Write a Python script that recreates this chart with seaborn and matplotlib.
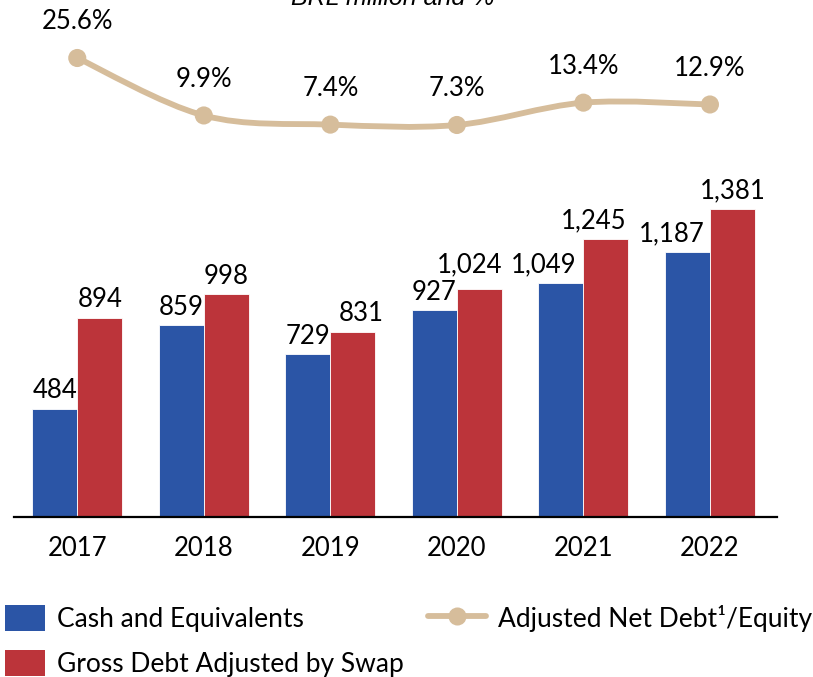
import numpy as np
import pandas as pd
import matplotlib
matplotlib.use('Agg')
import matplotlib.pyplot as plt
import seaborn as sns
from matplotlib.path import Path
from matplotlib.patches import PathPatch, Patch
from matplotlib.lines import Line2D

years = ['2017', '2018', '2019', '2020', '2021', '2022']
cash = [484, 859, 729, 927, 1049, 1187]
gross = [894, 998, 831, 1024, 1245, 1381]
ratio = [25.6, 9.9, 7.4, 7.3, 13.4, 12.9]
series_names = ['Cash and Equivalents', 'Gross Debt Adjusted by Swap']
line_name = 'Adjusted Net Debt¹/Equity'
title = 'BRL million and %'

BLUE = '#2B55A6'
RED = '#BC343A'
TAN = '#D6BD9B'

# manual label nudges (pixels) to mimic the reference's hand-placed labels
label_nudge_px = {(1, 2): (8, 0), (1, 3): (-10, 6), (0, 4): (-17, 0),
                  (1, 4): (-12, 0), (0, 5): (-16, 0)}

sns.set_theme(style='white')
plt.rcParams['font.family'] = ['Lato', 'DejaVu Sans']
plt.rcParams['text.color'] = 'black'

df = pd.DataFrame({
    'Year': years * 2,
    'Value': cash + gross,
    'Series': [series_names[0]] * len(years) + [series_names[1]] * len(years),
})

W, H = 813, 677
FS = 18.5
PAD = 4
fig = plt.figure(figsize=(W / 100, H / 100), dpi=100)
ax = fig.add_axes([14 / W, (H - 517) / H, 763 / W, (517 - 30) / H])
sns.barplot(data=df, x='Year', y='Value', hue='Series', palette=[BLUE, RED],
            width=0.71, gap=0, edgecolor='white', linewidth=0.6, saturation=1,
            ax=ax, legend=False)
ax.set_xlim(-0.5, 5.53)
ax.set_ylim(0, 2183)
for si, c in enumerate(ax.containers):
    anns = ax.bar_label(c, labels=[f'{int(b.get_height()):,}' for b in c], padding=PAD,
                        fontsize=FS, color='black')
    for bi, a in enumerate(anns):
        if (si, bi) in label_nudge_px:
            dx, dy = label_nudge_px[(si, bi)]
            a.xyann = (dx * 0.72, PAD + dy * 0.72)
for s in ['top', 'left', 'right']:
    ax.spines[s].set_visible(False)
ax.spines['bottom'].set_color('black')
ax.spines['bottom'].set_linewidth(1.6)
ax.set_yticks([])
ax.tick_params(axis='x', length=0, pad=14, labelsize=FS, labelcolor='black')
ax.set_xlabel('')
ax.set_ylabel('')

# line axis
ax2 = ax.twinx()
ax2.set_ylim(-99.8, 33.25)
ax2.set_xlim(ax.get_xlim())
xs = np.arange(len(ratio), dtype=float)
ys = np.array(ratio, dtype=float)
pts = np.column_stack([xs, ys])
ext = np.vstack([pts[0], pts, pts[-1]])
verts = [tuple(pts[0])]
codes = [Path.MOVETO]
for i in range(1, len(ext) - 2):
    p0, p1, p2, p3 = ext[i - 1], ext[i], ext[i + 1], ext[i + 2]
    c1 = p1 + (p2 - p0) / 6
    c2 = p2 - (p3 - p1) / 6
    verts += [tuple(c1), tuple(c2), tuple(p2)]
    codes += [Path.CURVE4] * 3
ax2.add_patch(PathPatch(Path(verts, codes), facecolor='none', edgecolor=TAN,
                        lw=4.2, capstyle='round', zorder=2))
sns.scatterplot(x=xs, y=ys, color=TAN, s=170, edgecolor='none', ax=ax2, zorder=3)
for x, r in zip(xs, ratio):
    ax2.annotate(f'{r}%', (x, r), xytext=(0, 26), textcoords='offset points',
                 ha='center', va='center', fontsize=FS, color='black')
ax2.set_yticks([])
for s in ax2.spines.values():
    s.set_visible(False)
ax2.set_ylabel('')

fig.text(393 / W, 1 - 5 / H, title, ha='center', va='baseline',
         style='italic', fontsize=18, color='black',
         family=['Liberation Sans', 'DejaVu Sans'])

LFS = 19
fpx = LFS * 100 / 72
h1 = [Patch(facecolor=BLUE, edgecolor='none'), Patch(facecolor=RED, edgecolor='none')]
leg1 = fig.legend(h1, series_names, loc='upper left', bbox_to_anchor=(5 / W, 1 - 605 / H),
                  frameon=False, fontsize=LFS, handlelength=40 / fpx, handleheight=30 / fpx,
                  handletextpad=12 / fpx, borderpad=0, borderaxespad=0, labelspacing=0.69)
h2 = [Line2D([0], [0], color=TAN, lw=4.2, marker='o', markersize=13,
             markeredgecolor='none', solid_capstyle='round')]
leg2 = fig.legend(h2, [line_name], loc='upper left', bbox_to_anchor=(428 / W, 1 - 605 / H),
                  frameon=False, fontsize=LFS, handlelength=58 / fpx, handleheight=30 / fpx,
                  handletextpad=12 / fpx, borderpad=0, borderaxespad=0)
for lg in (leg1, leg2):
    for t in lg.get_texts():
        t.set_color('black')

fig.savefig('out.png', dpi=100)
